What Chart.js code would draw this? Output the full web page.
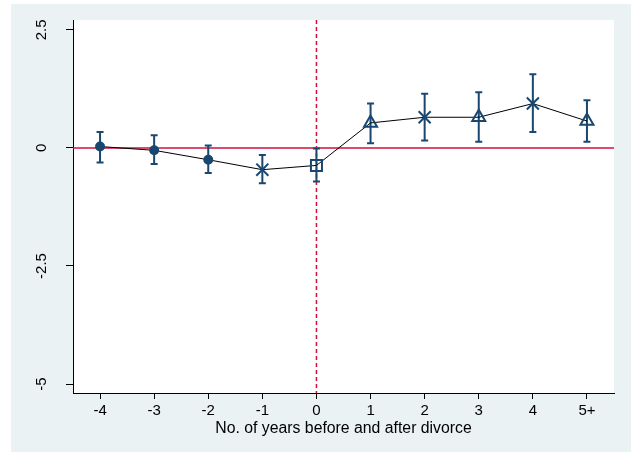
<!DOCTYPE html>
<html>
<head>
<meta charset="utf-8">
<script src="https://cdn.jsdelivr.net/npm/chart.js@4.4.0/dist/chart.umd.min.js"></script>
<style>
  html, body { margin: 0; padding: 0; background: #fff; }
  #wrap { width: 637px; height: 452px; }
</style>
</head>
<body>
<div id="wrap"><canvas id="myChart" width="637" height="452"></canvas></div>
<script>
// data
const categories = ['-4', '-3', '-2', '-1', '0', '1', '2', '3', '4', '5+'];
const yearIndex = [-4, -3, -2, -1, 0, 1, 2, 3, 4, 5];
const estimates = [0.03, -0.05, -0.25, -0.46, -0.37, 0.53, 0.65, 0.65, 0.94, 0.57];
const lower = [-0.31, -0.34, -0.53, -0.75, -0.71, 0.10, 0.16, 0.13, 0.34, 0.13];
const upper = [0.34, 0.27, 0.05, -0.15, -0.01, 0.94, 1.15, 1.18, 1.56, 1.01];
const yTicks = [-5, -2.5, 0, 2.5];
const yTickLabels = ['-5', '-2.5', '0', '2.5'];

const markerStyle = ['circle', 'circle', 'circle', 'crossRot', 'rect', 'triangle', 'crossRot', 'triangle', 'crossRot', 'triangle'];
const markerRadius = { circle: 4, crossRot: 8.5, rect: 7.8, triangle: 7.5 };

const navy = '#1a476f';
const red = '#d20f3e';
const font = '"Liberation Sans", Arial, sans-serif';

// background, reference lines, error bars, y labels
const stataPlugin = {
  id: 'stata',
  beforeDraw(chart) {
    const { ctx, chartArea } = chart;
    ctx.save();
    ctx.fillStyle = '#eaf2f3';
    ctx.fillRect(11, 4, 620, 448);
    ctx.fillStyle = '#ffffff';
    ctx.fillRect(chartArea.left, chartArea.top, chartArea.right - chartArea.left, chartArea.bottom - chartArea.top);
    ctx.restore();
  },
  beforeDatasetsDraw(chart) {
    const { ctx, chartArea, scales: { x, y } } = chart;
    ctx.save();
    // horizontal line at 0
    ctx.strokeStyle = red;
    ctx.lineWidth = 1.5;
    ctx.beginPath();
    ctx.moveTo(chartArea.left, y.getPixelForValue(0));
    ctx.lineTo(chartArea.right, y.getPixelForValue(0));
    ctx.stroke();
    // dashed vertical line at 0
    ctx.setLineDash([4, 3]);
    ctx.beginPath();
    ctx.moveTo(x.getPixelForValue(0), chartArea.top);
    ctx.lineTo(x.getPixelForValue(0), chartArea.bottom);
    ctx.stroke();
    ctx.setLineDash([]);
    // error bars
    ctx.strokeStyle = navy;
    ctx.lineWidth = 2;
    yearIndex.forEach((v, i) => {
      const px = x.getPixelForValue(v);
      const lo = y.getPixelForValue(lower[i]);
      const hi = y.getPixelForValue(upper[i]);
      ctx.beginPath();
      ctx.moveTo(px, lo); ctx.lineTo(px, hi);
      ctx.moveTo(px - 3.5, lo); ctx.lineTo(px + 3.5, lo);
      ctx.moveTo(px - 3.5, hi); ctx.lineTo(px + 3.5, hi);
      ctx.stroke();
    });
    ctx.restore();
  },
  afterDraw(chart) {
    const { ctx, scales: { y } } = chart;
    ctx.save();
    ctx.fillStyle = '#000';
    ctx.font = '15px ' + font;
    ctx.textAlign = 'center';
    ctx.textBaseline = 'middle';
    yTicks.forEach((v, i) => {
      ctx.save();
      ctx.translate(42, y.getPixelForValue(v));
      ctx.rotate(-Math.PI / 2);
      ctx.fillText(yTickLabels[i], 0, 0);
      ctx.restore();
    });
    ctx.restore();
  }
};

function renderChart() {
  const ctx = document.querySelector('#myChart').getContext('2d');
  new Chart(ctx, {
    type: 'line',
    data: {
      datasets: [
        {
          label: 'Estimate',
          data: yearIndex.map((v, i) => ({ x: v, y: estimates[i] })),
          borderColor: '#000',
          borderWidth: 1,
          pointStyle: markerStyle,
          pointRadius: markerStyle.map(s => markerRadius[s]),
          pointBorderColor: navy,
          pointBackgroundColor: markerStyle.map(s => s === 'circle' ? navy : 'rgba(0,0,0,0)'),
          pointBorderWidth: 2,
          tension: 0
        }
      ]
    },
    options: {
      responsive: false,
      animation: false,
      layout: { padding: { left: 0, top: 20, right: 23, bottom: 0 } },
      plugins: {
        legend: { display: false },
        tooltip: { enabled: false }
      },
      scales: {
        x: {
          type: 'linear',
          min: -4.5,
          max: 5.5,
          afterBuildTicks: scale => { scale.ticks = yearIndex.map(v => ({ value: v })); },
          afterFit: scale => { scale.height = 59; },
          ticks: {
            color: '#000',
            font: { family: font, size: 15 },
            padding: 3,
            maxRotation: 0,
            callback: v => categories[yearIndex.indexOf(v)]
          },
          grid: { display: true, drawOnChartArea: false, drawTicks: true, tickLength: 6, color: '#000' },
          border: { display: true, color: '#000', width: 1 },
          title: {
            display: true,
            text: 'No. of years before and after divorce',
            color: '#000',
            font: { family: font, size: 15.8 },
            padding: { top: 0, bottom: 14 }
          }
        },
        y: {
          type: 'linear',
          min: -5.19,
          max: 2.71,
          afterBuildTicks: scale => { scale.ticks = yTicks.map(v => ({ value: v })); },
          afterFit: scale => { scale.width = 73; },
          ticks: { display: false },
          grid: { display: true, drawOnChartArea: false, drawTicks: true, tickLength: 7, color: '#000' },
          border: { display: true, color: '#000', width: 1 }
        }
      }
    },
    plugins: [stataPlugin]
  });
}

renderChart();
</script>
</body>
</html>
